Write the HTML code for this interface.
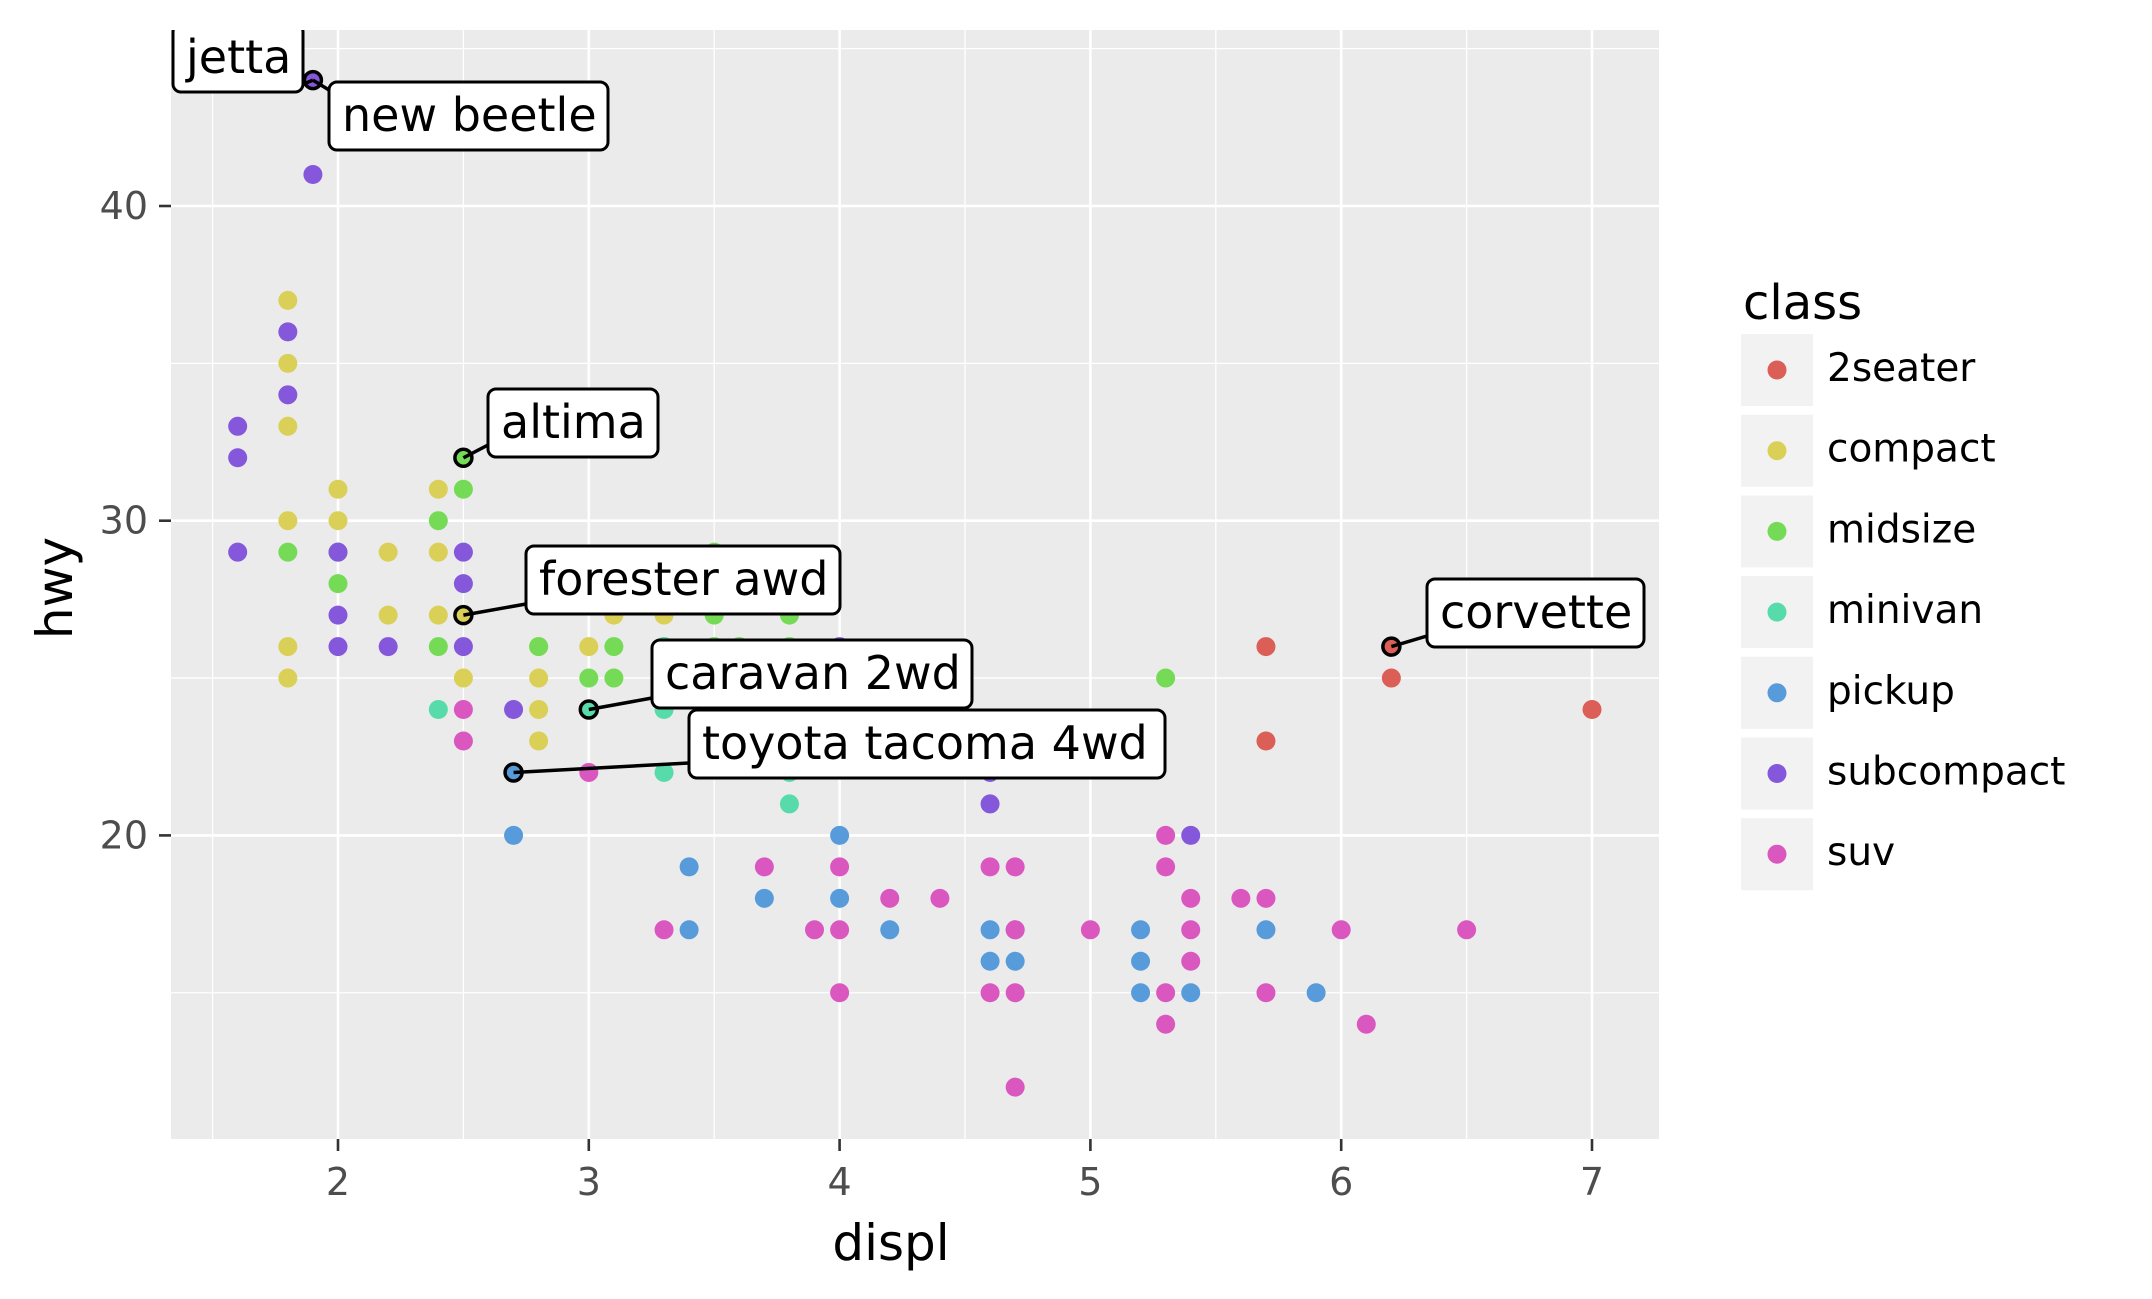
<!DOCTYPE html>
<html><head><meta charset="utf-8"><style>
html,body{margin:0;padding:0;background:#fff;}
svg{display:block;font-family:"DejaVu Sans","Liberation Sans",sans-serif;}
</style></head><body>
<svg id="s" width="2152" height="1299" viewBox="0 0 2152 1299" xmlns="http://www.w3.org/2000/svg">
<defs><clipPath id="pc"><rect x="171" y="30" width="1488" height="1109"/></clipPath></defs>
<rect x="0" y="0" width="2152" height="1299" fill="#fff"/>
<rect x="171" y="30" width="1488" height="1109" fill="#ebebeb"/>
<g id="grid" clip-path="url(#pc)"></g>
<g id="pts" clip-path="url(#pc)"></g>
<g id="lab" clip-path="url(#pc)" font-size="46" fill="#000"></g>
<g id="axes" fill="#4d4d4d" font-size="38"></g>
<text x="891" y="1260" font-size="50" text-anchor="middle" fill="#000">displ</text>
<text transform="translate(72,588) rotate(-90)" font-size="50" text-anchor="middle" fill="#000">hwy</text>
<g id="leg"></g>
</svg>
<script>
var NS="http://www.w3.org/2000/svg";
function el(p,t,a,txt){var e=document.createElementNS(NS,t);for(var k in a)e.setAttribute(k,a[k]);if(txt!==undefined)e.textContent=txt;document.getElementById(p).appendChild(e);return e;}
function X(v){return 338+(v-2)*250.8;}
function Y(v){return 206+(40-v)*31.47;}
[1.5,2.5,3.5,4.5,5.5,6.5].forEach(function(v){el("grid","line",{x1:X(v),x2:X(v),y1:30,y2:1139,stroke:"#fff","stroke-width":1.3});});
[15,25,35,45].forEach(function(v){el("grid","line",{y1:Y(v),y2:Y(v),x1:171,x2:1659,stroke:"#fff","stroke-width":1.3});});
[2,3,4,5,6,7].forEach(function(v){el("grid","line",{x1:X(v),x2:X(v),y1:30,y2:1139,stroke:"#fff","stroke-width":2.6});
 el("axes","line",{x1:X(v),x2:X(v),y1:1139,y2:1151,stroke:"#333","stroke-width":2.6});
 el("axes","text",{x:X(v),y:1195,"text-anchor":"middle"},String(v));});
[20,30,40].forEach(function(v){el("grid","line",{y1:Y(v),y2:Y(v),x1:171,x2:1659,stroke:"#fff","stroke-width":2.6});
 el("axes","line",{x1:159,x2:171,y1:Y(v),y2:Y(v),stroke:"#333","stroke-width":2.6});
 el("axes","text",{x:148,y:Y(v)+13,"text-anchor":"end"},String(v));});
var C={"2seater":"#db5f57",compact:"#dbd057",midsize:"#75db57",minivan:"#57dbaa",pickup:"#579bdb",subcompact:"#8557db",suv:"#db57c0"};
var D={
"2seater":[[5.7,26],[5.7,23],[6.2,26],[6.2,25],[7,24]],
compact:[[1.8,37],[1.8,35],[1.8,33],[1.8,30],[1.8,26],[1.8,25],[2,31],[2,30],[2,29],[2.2,29],[2.2,27],[2.4,31],[2.4,29],[2.4,27],[2.5,27],[2.5,25],[2.8,26],[2.8,25],[2.8,24],[2.8,23],[3,26],[3.1,27],[3.3,27],[1.9,44]],
midsize:[[1.8,29],[2,29],[2,28],[2.4,30],[2.4,26],[2.5,32],[2.5,31],[2.8,26],[3,25],[3.1,26],[3.1,25],[3.5,29],[3.5,27],[3.5,26],[3.6,26],[3.8,27],[3.8,26],[5.3,25],[3.5,28],[3.3,26]],
minivan:[[2.4,24],[3,24],[3.3,24],[3.3,22],[3.8,22],[3.8,21],[3.8,24],[3.3,26]],
pickup:[[2.7,22],[2.7,20],[3.4,19],[3.4,17],[3.7,18],[4,20],[4,18],[4.2,17],[4.6,17],[4.6,16],[4.7,17],[4.7,16],[5.2,17],[5.2,16],[5.2,15],[5.4,15],[5.7,17],[5.9,15]],
subcompact:[[1.9,44],[1.9,41],[1.8,36],[1.8,34],[1.6,33],[1.6,32],[1.6,29],[2,29],[2,27],[2,26],[2.2,26],[2.5,29],[2.5,28],[2.5,26],[2.7,24],[4,26],[4.6,22],[4.6,21],[5.4,20]],
suv:[[2.5,24],[2.5,23],[3,22],[3.3,17],[3.7,19],[3.9,17],[4,19],[4,17],[4,15],[4.2,18],[4.4,18],[4.6,19],[4.6,15],[4.7,19],[4.7,17],[4.7,15],[4.7,12],[5,17],[5.3,20],[5.3,19],[5.3,15],[5.3,14],[5.4,18],[5.4,17],[5.4,16],[5.6,18],[5.7,18],[5.7,15],[6,17],[6.1,14],[6.5,17]]};
for(var k in D)D[k].forEach(function(p){el("pts","circle",{cx:X(p[0]),cy:Y(p[1]),r:9.5,fill:C[k]});});
var H=[[1.9,44,"subcompact"],[2.5,32,"midsize"],[2.5,27,"compact"],[3,24,"minivan"],[2.7,22,"pickup"],[6.2,26,"2seater"]];
var L=[["jetta",173,24,130,[1.9,44],[299,86]],["new beetle",329,82,279,[1.9,44],[329,90]],["altima",488,389,170,[2.5,32],[488,445]],
["forester awd",526,546,314,[2.5,27],[526,604]],["caravan 2wd",652,640,320,[3,24],[652,698]],
["toyota tacoma 4wd",689,710,476,[2.7,22],[689,763]],["corvette",1427,579,217,[6.2,26],[1427,636]]];
L.forEach(function(l){el("lab","line",{x1:X(l[4][0]),y1:Y(l[4][1]),x2:l[5][0],y2:l[5][1],stroke:"#000","stroke-width":3.5});});
H.forEach(function(p){el("pts","circle",{cx:X(p[0]),cy:Y(p[1]),r:8.5,fill:C[p[2]],stroke:"#000","stroke-width":3.5});});
L.forEach(function(l){el("lab","rect",{x:l[1],y:l[2],width:l[3],height:68,rx:8,ry:8,fill:"#fff",stroke:"#000","stroke-width":3});
 el("lab","text",{x:l[1]+13,y:l[2]+49},l[0]);});
el("leg","text",{x:1743,y:319,"font-size":48,fill:"#000"},"class");
var names=["2seater","compact","midsize","minivan","pickup","subcompact","suv"];
names.forEach(function(n,i){var y=334+i*80.7;
 el("leg","rect",{x:1741,y:y,width:72,height:72,fill:"#f2f2f2"});
 el("leg","circle",{cx:1777,cy:y+36,r:9.5,fill:C[n]});
 el("leg","text",{x:1827,y:y+47,"font-size":39,fill:"#000"},n);});
</script>
</body></html>
